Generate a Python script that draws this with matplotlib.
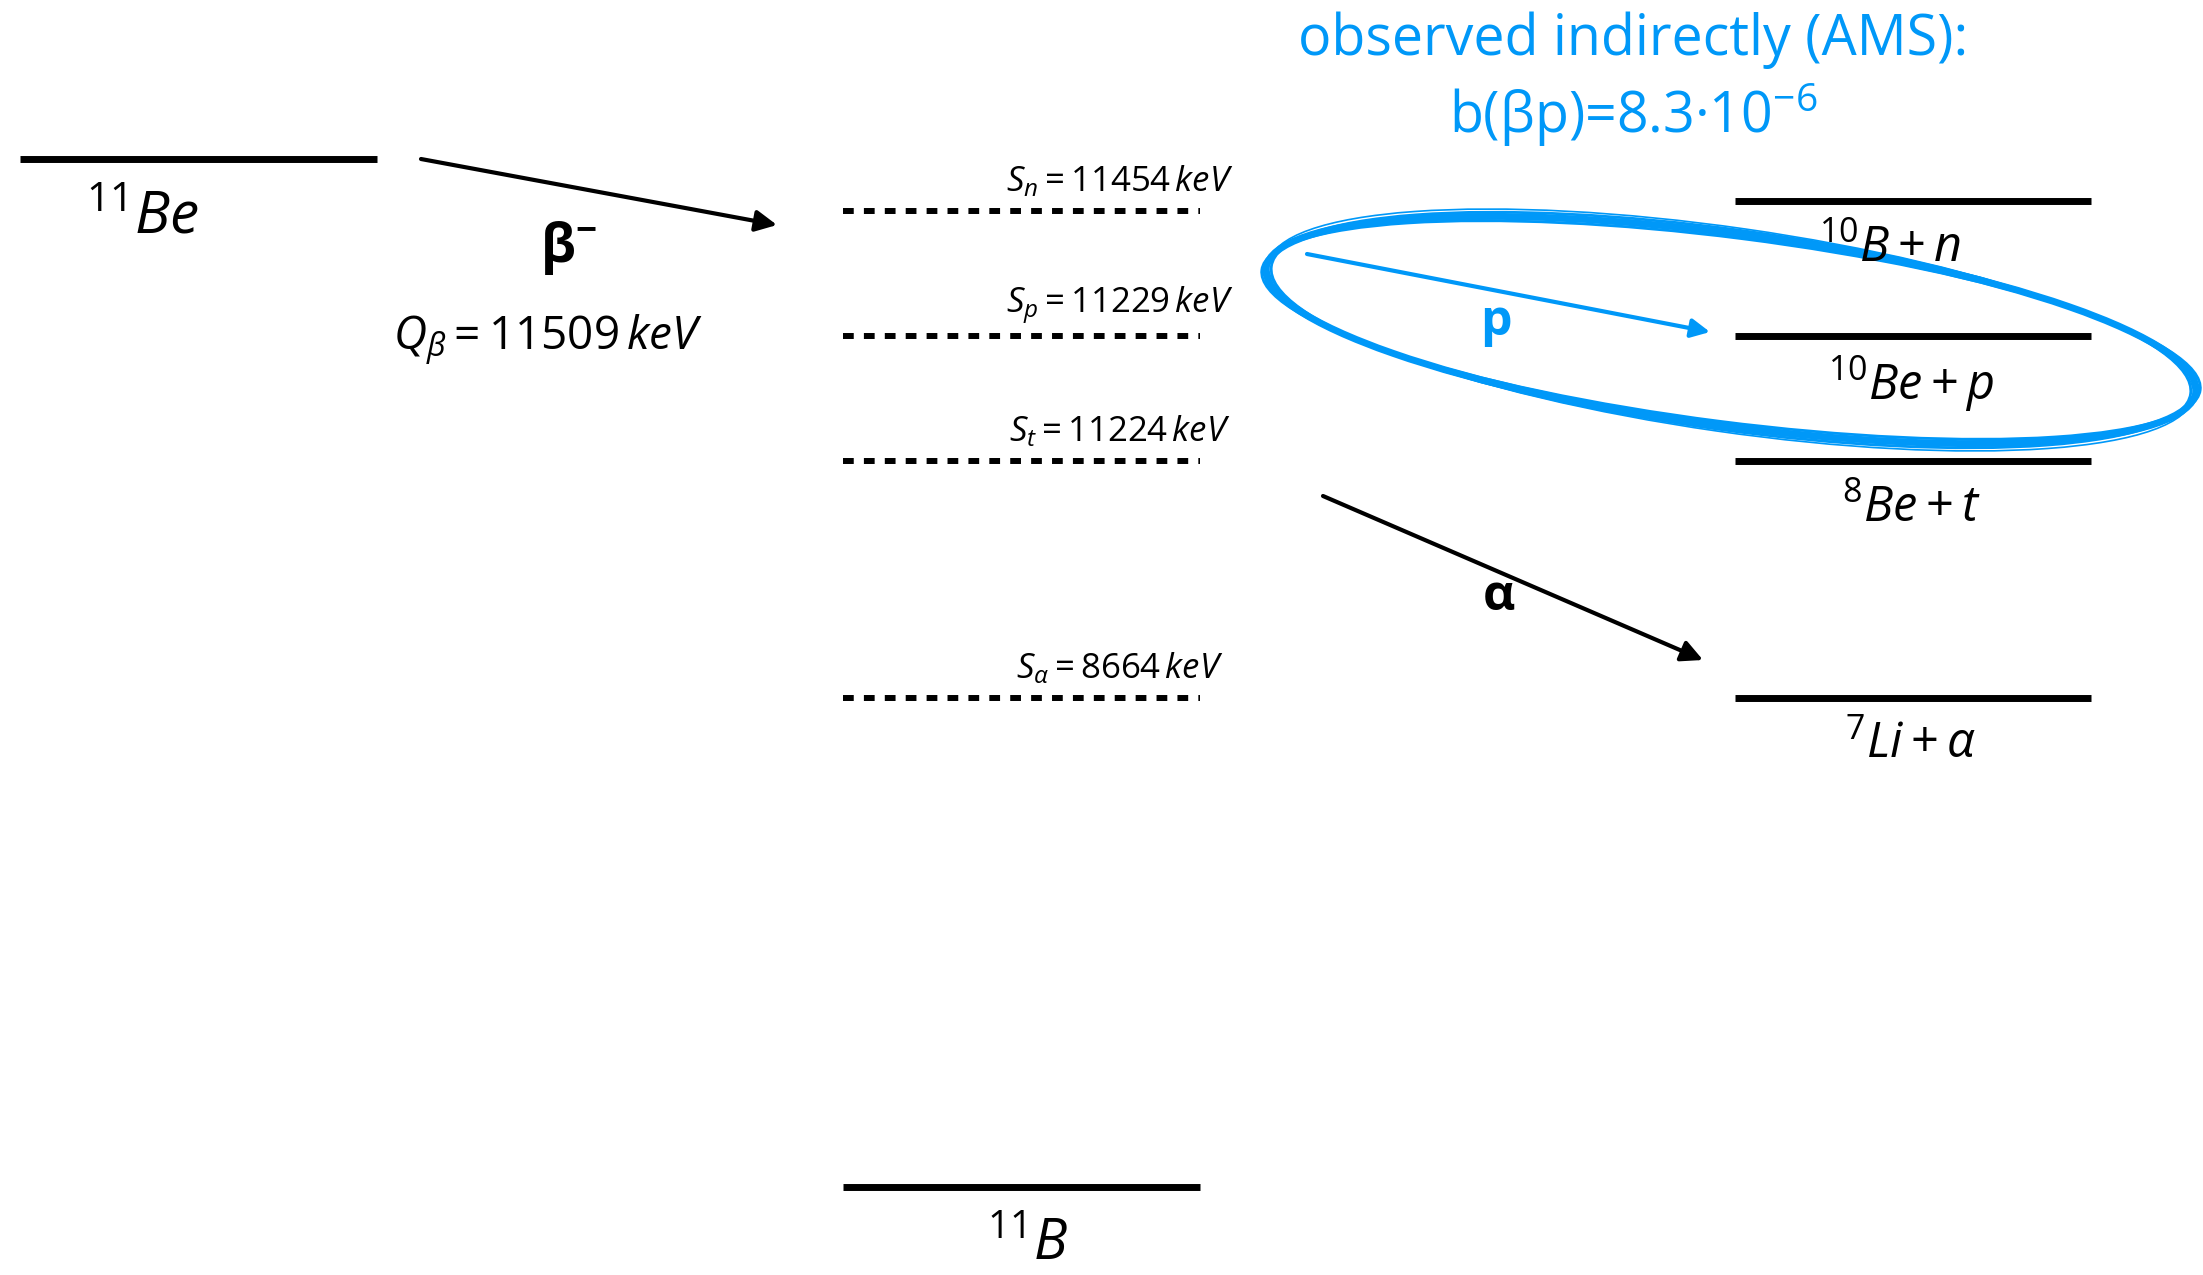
import matplotlib
matplotlib.use('Agg')
import matplotlib.pyplot as plt
from matplotlib.patches import Ellipse

plt.rcParams['font.family'] = ['Open Sans', 'DejaVu Sans']
plt.rcParams['mathtext.fontset'] = 'custom'
plt.rcParams['mathtext.rm'] = 'Open Sans'
plt.rcParams['mathtext.it'] = 'Open Sans:italic'
plt.rcParams['mathtext.bf'] = 'Open Sans:bold'

#%% Data
parent = r'$^{11}Be$'
daughter = r'$^{11}B$'
q_beta = 11509  # keV
sep_names = ['n', 'p', 't', r'\alpha']
sep_energies = [11454, 11229, 11224, 8664]  # keV
channels = [r'$^{10}B+n$', r'$^{10}Be+p$', r'$^{8}Be+t$', r'$^{7}Li+\alpha$']
branching = r'b(βp)=8.3·10$^{-6}$'

#%% Layout (pixel coords of the 2203x1275 picture, schematic)
blue = '#0098f8'
row_y = [211, 336, 461, 698]        # dashed thresholds in 11B
chan_y = [201, 336, 461, 698]       # final channel levels
mid_x = (843, 1200)
right_x = (1735, 2091)

fig = plt.figure(figsize=(22.03, 12.75), dpi=100)
ax = fig.add_axes([0, 0, 1, 1])
ax.set_xlim(0, 2203)
ax.set_ylim(1275, 0)
ax.axis('off')

# 11Be ground state
ax.plot([20, 377], [159, 159], color='k', lw=5, solid_capstyle='butt')
ax.text(143, 218, parent, fontsize=42, ha='center', va='center')

# beta decay arrow
ax.annotate('', xy=(777, 225), xytext=(421, 159),
            arrowprops=dict(arrowstyle='-|>', lw=3, color='k', mutation_scale=32,
                            shrinkA=0, shrinkB=0))
ax.text(568, 248, r'$\mathbf{\beta}^{\mathbf{-}}$', fontsize=38, ha='center', va='center')
ax.text(548, 340, r'$Q_{\beta}=$' + str(q_beta) + r'$\,keV$', fontsize=33,
        ha='center', va='center')

# separation thresholds in 11B
for name, e, y in zip(sep_names, sep_energies, row_y):
    ax.plot(mid_x, [y, y], color='k', lw=4.3, linestyle=(0, (1.8, 1.7)),
            dash_capstyle='butt')
    ax.text(1120, y - 30, r'$S_{' + name + '}=$' + str(e) + r'$\,keV$',
            fontsize=25, ha='center', va='center')

# 11B ground state
ax.plot([843, 1200], [1187, 1187], color='k', lw=5, solid_capstyle='butt')
ax.text(1028, 1245, daughter, fontsize=40, ha='center', va='center')

# final channels
lab_x = [1890, 1911, 1911, 1911]
for lab, y, lx in zip(channels, chan_y, lab_x):
    ax.plot(right_x, [y, y], color='k', lw=5, solid_capstyle='butt')
    ax.text(lx, y + 48, lab, fontsize=35, ha='center', va='center')

# alpha arrow
ax.annotate('', xy=(1703, 660), xytext=(1323, 496),
            arrowprops=dict(arrowstyle='-|>', lw=3, color='k', mutation_scale=32,
                            shrinkA=0, shrinkB=0))
ax.text(1499, 597, 'α', fontsize=36, fontweight='bold', ha='center', va='center')

# proton arrow (blue)
ax.annotate('', xy=(1710, 332), xytext=(1307, 254),
            arrowprops=dict(arrowstyle='-|>', lw=3, color=blue, mutation_scale=28,
                            shrinkA=0, shrinkB=0))
ax.text(1496, 322, 'p', fontsize=36, fontweight='bold', color=blue,
        ha='center', va='center')

# sketchy ellipse around the proton branch
for dw, dh, da, lw in [(0, 0, 0, 5), (-10, 8, 0.3, 2), (8, -8, -0.3, 2), (-4, 12, 0.6, 1.2)]:
    ax.add_patch(Ellipse((1731, 330), 938 + dw, 192 + dh, angle=7.6 + da,
                         fill=False, edgecolor=blue, lw=lw, clip_on=False))

# annotation text
ax.text(1633, 40, 'observed indirectly (AMS):', fontsize=40, color=blue,
        ha='center', va='center')
ax.text(1633, 115, branching, fontsize=40, color=blue, ha='center', va='center')

fig.savefig('out.png', dpi=100)
